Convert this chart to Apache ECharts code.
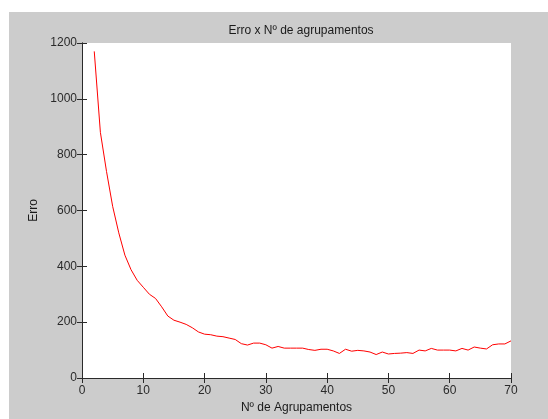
<!DOCTYPE html>
<html>
<head>
<meta charset="utf-8">
<script src="https://cdn.jsdelivr.net/npm/echarts@6/dist/echarts.min.js"></script>
<style>
html,body{margin:0;padding:0;background:#fff;}
#chart{width:548px;height:419px;}
</style>
</head>
<body>
<div id="chart"></div>
<script>
// Data
const clusters = [2,3,4,5,6,7,8,9,10,11,12,13,14,15,16,17,18,19,20,21,22,23,24,25,26,27,28,29,30,31,32,33,34,35,36,37,38,39,40,41,42,43,44,45,46,47,48,49,50,51,52,53,54,55,56,57,58,59,60,61,62,63,64,65,66,67,68,69,70];
const erro = [1170,880,740,615,520,440,388,350,325,300,285,255,222,207,200,192,180,165,157,155,150,148,143,138,123,118,125,125,119,107,113,107,107,107,107,102,99,103,103,97,88,103,96,99,97,93,84,93,86,88,89,91,88,100,97,106,100,100,100,97,106,100,111,107,104,119,122,122,133];
const xTicks = [0,10,20,30,40,50,60,70];
const yTicks = [0,200,400,600,800,1000,1200];

const titleText = 'Erro x Nº de agrupamentos';
const xName = 'Nº de Agrupamentos';
const yName = 'Erro';

const font = 'Liberation Sans, Arial, sans-serif';
const axisColor = '#2a2a2a';

const chart = echarts.init(document.getElementById('chart'), null, {renderer: 'canvas'});

const commonAxis = {
  axisLine: {show: true, lineStyle: {color: axisColor, width: 1}},
  axisTick: {show: true, inside: true, length: 5, lineStyle: {color: axisColor}},
  splitLine: {show: false},
};

chart.setOption({
  animation: false,
  backgroundColor: '#ffffff',
  graphic: [{
    type: 'rect', z: -10, silent: true,
    shape: {x: 9, y: 12, width: 539, height: 407},
    style: {fill: '#cccccc'}
  }],
  title: {
    text: titleText,
    left: 296, top: 20, textAlign: 'center',
    textStyle: {fontFamily: font, fontSize: 12, fontWeight: 'normal', color: '#1a1a1a'}
  },
  grid: {left: 82, top: 43, right: 37, bottom: 37, show: true, backgroundColor: '#ffffff', borderWidth: 0},
  xAxis: [
    Object.assign({}, commonAxis, {
      type: 'value', min: 0, max: 70, interval: 10, position: 'bottom',
      name: xName, nameLocation: 'middle', nameGap: 24,
      nameTextStyle: {fontFamily: font, fontSize: 12, color: '#1a1a1a'},
      axisLabel: {fontFamily: font, fontSize: 12, color: '#2a2a2a', margin: 7,
        formatter: v => xTicks.includes(v) ? String(v) : ''}
    }),
    Object.assign({}, commonAxis, {
      type: 'value', min: 0, max: 70, interval: 10, position: 'top',
      axisLabel: {show: false}
    })
  ],
  yAxis: [
    Object.assign({}, commonAxis, {
      type: 'value', min: 0, max: 1200, interval: 200, position: 'left',
      name: yName, nameLocation: 'middle', nameGap: 40, nameRotate: 90,
      nameTextStyle: {fontFamily: font, fontSize: 12, color: '#1a1a1a'},
      axisLabel: {fontFamily: font, fontSize: 12, color: '#2a2a2a', margin: 5,
        formatter: v => yTicks.includes(v) ? String(v) : ''}
    }),
    Object.assign({}, commonAxis, {
      type: 'value', min: 0, max: 1200, interval: 200, position: 'right',
      axisLabel: {show: false}
    })
  ],
  series: [{
    type: 'line',
    data: clusters.map((c, i) => [c, erro[i]]),
    xAxisIndex: 0, yAxisIndex: 0,
    showSymbol: false, symbol: 'none',
    lineStyle: {color: '#ff0000', width: 1},
    itemStyle: {color: '#ff0000'}
  }]
});
</script>
</body>
</html>
